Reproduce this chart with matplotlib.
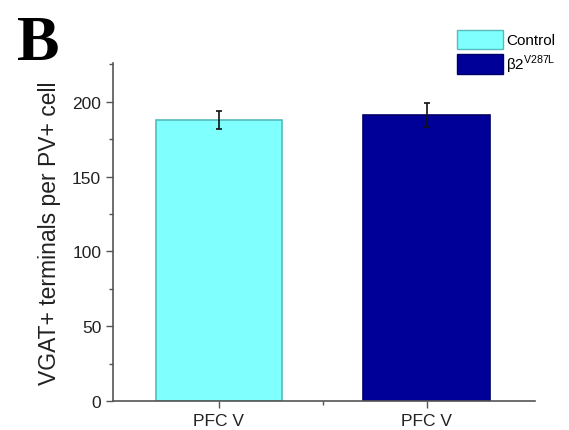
import matplotlib
matplotlib.use("Agg")
import matplotlib.pyplot as plt
from matplotlib.ticker import MultipleLocator, FixedLocator
from matplotlib.patches import Patch

categories = ["PFC V", "PFC V"]
groups = ["Control", "β2$^{\\mathrm{V287L}}$"]
means = [188, 191]
errors = [6, 8]
colors = ["#80FFFF", "#000099"]
edges = ["#55BBBB", "#000066"]

plt.rcParams['font.family'] = ['Liberation Sans', 'DejaVu Sans']
plt.rcParams['mathtext.fontset'] = 'custom'
plt.rcParams['mathtext.rm'] = 'Liberation Sans'
fig = plt.figure(figsize=(5.69, 4.31), dpi=100)
ax = fig.add_axes([0.1986, 0.0673, 0.7414, 0.7842])

x = [1, 2]
for xi, m, e, c, ec in zip(x, means, errors, colors, edges):
    ax.bar(xi, m, width=0.61, color=c, edgecolor=ec, linewidth=1.2, zorder=2)
    ax.errorbar(xi, m, yerr=e, fmt='none', ecolor='#111111', elinewidth=1.2,
                capsize=2.5, capthick=1.2, zorder=3)

ax.set_xlim(0.49, 2.52)
ax.set_ylim(0, 226)
ax.set_xticks(x)
ax.set_xticklabels(categories)
ax.xaxis.set_minor_locator(FixedLocator([1.5]))
ax.yaxis.set_major_locator(MultipleLocator(50))
ax.yaxis.set_minor_locator(MultipleLocator(25))
ax.tick_params(axis='both', which='major', direction='out', length=5, width=1,
               colors='#555555', labelcolor='#222222', labelsize=12.5)
ax.tick_params(axis='both', which='minor', direction='out', length=3, width=1, colors='#555555')
for s in ['top', 'right']:
    ax.spines[s].set_visible(False)
for s in ['left', 'bottom']:
    ax.spines[s].set_color('#555555')
    ax.spines[s].set_linewidth(1.2)

ax.set_ylabel("VGAT+ terminals per PV+ cell", fontsize=16.5, color='#222222', labelpad=8)

handles = [Patch(facecolor=colors[i], edgecolor=edges[i], label=groups[i]) for i in range(2)]
fig.legend(handles=handles, loc='upper left', bbox_to_anchor=(0.787, 0.95),
           frameon=False, fontsize=11, handlelength=3.0, handleheight=1.55,
           handletextpad=0.2, labelspacing=0.25, borderpad=0.1)

fig.text(0.03, 0.86, "B", fontsize=46, fontweight='bold', family='Liberation Serif', color='black')

fig.savefig("out.png", dpi=100)
